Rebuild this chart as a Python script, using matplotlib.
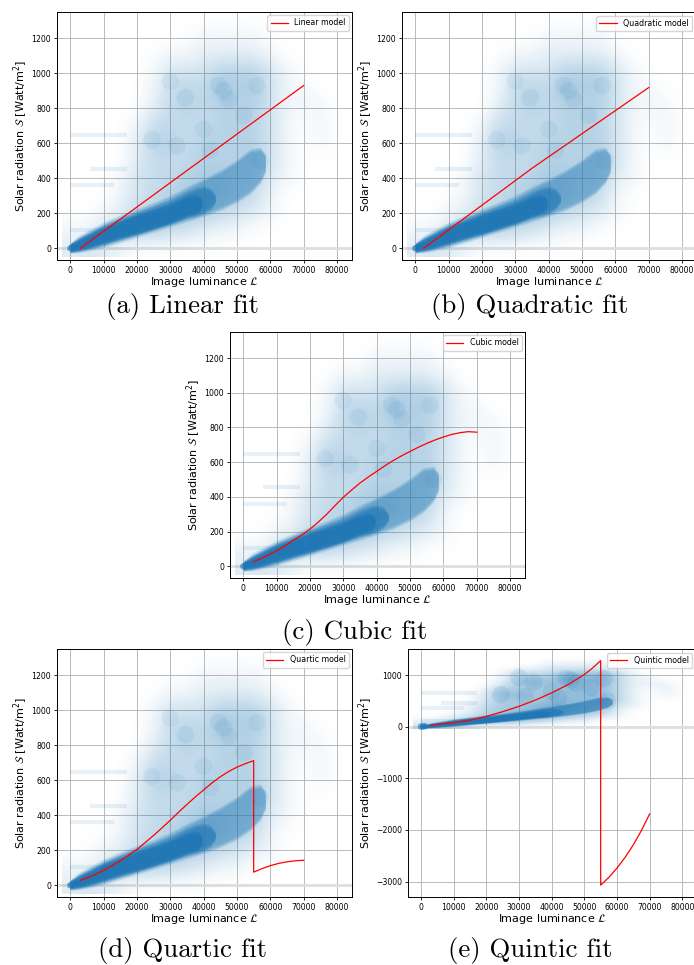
import matplotlib
matplotlib.use("Agg")
import matplotlib.pyplot as plt
import numpy as np
from matplotlib.colors import to_rgba

W, H = 694, 965
BLUE = "#1f77b4"

# fitted model curves (image luminance -> solar radiation)
linear_x = [3000, 70000]
linear_y = [0, 930]
quad_x = [2500, 35000, 70000]
quad_y = [0, 457, 918]
cubic_x = [3000, 7500, 10000, 12500, 15000, 17500, 20000, 22500, 25000, 27500,
           30000, 32500, 35000, 37500, 40000, 42500, 45000, 47500, 50000, 52500,
           55000, 57500, 60000, 62500, 65000, 67500, 70000]
cubic_y = [25, 65, 90, 118, 150, 180, 215, 255, 300, 350, 398, 440, 480, 515,
           547, 580, 610, 637, 662, 686, 708, 728, 745, 760, 770, 776, 773]
quartic_x = [3000, 7500, 10000, 12500, 15000, 17500, 20000, 22500, 25000, 27500,
             30000, 32500, 35000, 37500, 40000, 42500, 45000, 47500, 50000, 52500,
             55000, 55000, 57500, 60000, 62500, 65000, 67500, 70000]
quartic_y = [28, 62, 85, 112, 140, 172, 205, 245, 285, 328, 372, 418, 462, 505,
             545, 585, 620, 650, 675, 695, 712, 75, 95, 112, 125, 134, 140, 143]
quintic_x = [3000, 10000, 15000, 20000, 25000, 30000, 35000, 40000, 45000, 50000,
             52500, 55000, 55000, 57500, 60000, 62500, 65000, 67500, 70000]
quintic_y = [30, 75, 125, 200, 290, 395, 515, 655, 815, 1010, 1135, 1280,
             -3070, -2920, -2740, -2530, -2290, -2010, -1690]

# measurement cloud, estimated density on a coarse grid
# columns: luminance 0..80000 step 5000, rows: radiation 1300 down to 0 step 100
cloud_x = np.arange(0, 80001, 5000)
cloud_y = np.arange(1300, -1, -100)
cloud_density = np.array([
    [0, 0, 0, 0, 0, 0, 0, 0, 0, 0, 0, 0, 0, 0, 0, 0, 0],
    [0, 0, 0, 0, 0, 0, 0, 0, 1, 1, 1, 1, 0, 0, 0, 0, 0],
    [0, 0, 0, 0, 0, 0, 1, 1, 2, 2, 2, 2, 1, 0, 0, 0, 0],
    [0, 0, 0, 0, 0, 1, 3, 3, 3, 5, 5, 5, 3, 1, 0, 0, 0],
    [0, 0, 0, 0, 0, 1, 4, 5, 4, 7, 5, 6, 3, 1, 1, 0, 0],
    [0, 0, 0, 0, 0, 2, 4, 5, 4, 5, 5, 5, 3, 1, 1, 1, 0],
    [0, 0, 0, 0, 1, 4, 4, 4, 4, 5, 5, 5, 3, 1, 0, 1, 0],
    [0, 0, 0, 0, 2, 5, 5, 4, 5, 5, 5, 5, 3, 1, 0, 1, 0],
    [0, 0, 0, 0, 2, 4, 4, 4, 5, 5, 5, 6, 3, 1, 0, 0, 0],
    [0, 0, 0, 1, 3, 4, 4, 5, 6, 6, 5, 5, 2, 1, 0, 0, 0],
    [0, 0, 0, 1, 3, 4, 5, 6, 7, 6, 5, 4, 1, 0, 0, 0, 0],
    [0, 0, 1, 2, 4, 5, 6, 6, 5, 4, 3, 2, 1, 0, 0, 0, 0],
    [1, 1, 3, 4, 5, 5, 4, 3, 2, 1, 1, 0, 0, 0, 0, 0, 0],
    [2, 3, 2, 1, 0, 0, 0, 0, 0, 0, 0, 0, 0, 0, 0, 0, 0],
], dtype=float)

# dense band of the cloud: faint outer band, middle layer, solid core
halo_x = [0, 2500, 5000, 10000, 15000, 20000, 25000, 30000, 35000, 40000,
          45000, 50000, 54000, 57000, 58500]
halo_lo = [-10, -8, 0, 22, 50, 80, 110, 140, 170, 200, 235, 280, 330, 390, 450]
halo_hi = [12, 55, 82, 132, 172, 210, 245, 285, 335, 380, 430, 490, 550, 560, 520]
mid_x = [0, 2500, 5000, 10000, 15000, 20000, 25000, 30000, 35000, 38000,
         40000, 42000, 43500]
mid_lo = [-8, -2, 8, 34, 64, 92, 122, 152, 188, 200, 215, 238, 275]
mid_hi = [14, 44, 68, 116, 156, 192, 225, 260, 308, 330, 338, 325, 290]
core_x = [0, 2500, 5000, 10000, 15000, 20000, 25000, 30000, 35000, 37000,
          38500, 39500]
core_lo = [-5, 4, 16, 45, 75, 100, 130, 160, 198, 210, 225, 245]
core_hi = [8, 34, 58, 106, 140, 176, 205, 238, 280, 290, 285, 265]

# horizontal streaks of repeated radiation values at low luminance
streak_y = [650, 455, 360, 105]
streak_start = [0, 6000, 0, 0]
streak_end = [17000, 17000, 13000, 22000]

# darker clumps inside the cloud
blob_x = [46000, 44500, 34500, 32000, 24500, 56000, 57000, 30000, 47500, 42000, 40000, 52000]
blob_y = [900, 930, 860, 585, 620, 930, 500, 955, 850, 560, 680, 760]
origin_x = [0, 600, 1200]
origin_y = [0, 4, 10]

panels = [
    ("(a) Linear fit", "Linear model", linear_x, linear_y, (57, 12, 295, 248), (182, 307)),
    ("(b) Quadratic fit", "Quadratic model", quad_x, quad_y, (402, 12, 295, 248), (530, 307)),
    ("(c) Cubic fit", "Cubic model", cubic_x, cubic_y, (230, 332, 295, 246), (355, 632)),
    ("(d) Quartic fit", "Quartic model", quartic_x, quartic_y, (57, 649, 295, 248), (182, 950)),
    ("(e) Quintic fit", "Quintic model", quintic_x, quintic_y, (408, 649, 289, 248), (530, 950)),
]


def soft_band(ax, x, lo, hi, alpha, zorder):
    # stack a few widened copies so the band edge fades out
    lo = np.asarray(lo, dtype=float)
    hi = np.asarray(hi, dtype=float)
    for pad in (18, 9, 0):
        ax.fill_between(x, lo - pad, hi + pad, color=BLUE, alpha=alpha / 3,
                        linewidth=0, zorder=zorder)


fig = plt.figure(figsize=(W / 100, H / 100), dpi=100)

for i, (caption, name, cx, cy, box, cap_pos) in enumerate(panels):
    left, top, width, height = box
    ax = fig.add_axes([left / W, 1 - (top + height) / H, width / W, height / H])
    quintic = i == 4
    gain = 1.5 if quintic else 1.0

    ax.set_axisbelow(True)
    ax.grid(True, color="#b0b0b0", linewidth=0.6)
    ax.axhline(0, color="#dedede", linewidth=2.0, zorder=0.8)

    rgba = np.zeros(cloud_density.shape + (4,))
    rgba[..., :3] = to_rgba(BLUE)[:3]
    rgba[..., 3] = np.clip(cloud_density * 0.065 * gain, 0, 1)
    ax.imshow(rgba, extent=(cloud_x[0] - 2500, cloud_x[-1] + 2500,
                            cloud_y[-1] - 50, cloud_y[0] + 50),
              origin="upper", aspect="auto", interpolation="bicubic", zorder=1)

    ax.hlines(streak_y, streak_start, streak_end, color=BLUE, linewidth=3,
              alpha=0.1, zorder=1.2)
    ax.scatter(blob_x, blob_y, s=160, color=BLUE, alpha=0.07 * gain,
               edgecolors="none", zorder=1.25)
    soft_band(ax, halo_x, halo_lo, halo_hi, 0.55 * gain, 1.3)
    soft_band(ax, mid_x, mid_lo, mid_hi, 0.9, 1.35)
    soft_band(ax, core_x, core_lo, core_hi, 1.6, 1.4)
    ax.scatter(origin_x, origin_y, s=22, color=BLUE, alpha=0.6,
               edgecolors="none", zorder=1.5)

    ax.plot(cx, cy, color="red", linewidth=0.9, label=name, zorder=3)

    ax.set_xlim(-4000, 84500)
    if quintic:
        ax.set_ylim(-3300, 1505)
        ax.set_yticks([-3000, -2000, -1000, 0, 1000])
    else:
        ax.set_ylim(-67, 1350)
        ax.set_yticks(range(0, 1201, 200))
    ax.set_xticks(range(0, 80001, 10000))

    ax.tick_params(labelsize=5.6, length=2.5, width=0.6, pad=1.8)
    for side in ax.spines:
        ax.spines[side].set_linewidth(0.7)

    ax.set_xlabel(r"Image luminance $\mathcal{L}$", fontsize=8, labelpad=0.3)
    ax.set_ylabel(r"Solar radiation $\mathcal{S}$ [Watt/m$^2$]", fontsize=8, labelpad=1)
    if left + width > W:
        ax.legend(loc="upper right", fontsize=5.7, handlelength=2.2,
                  bbox_to_anchor=(692 / W, 1 - (top + 4) / H),
                  bbox_transform=fig.transFigure, borderaxespad=0, framealpha=0.8)
    else:
        ax.legend(loc="upper right", fontsize=5.7, handlelength=2.2,
                  borderaxespad=0.4, framealpha=0.8)

    fig.text(cap_pos[0] / W, 1 - cap_pos[1] / H, caption, fontfamily="cmr10",
             fontsize=19.3, ha="center", va="center")

fig.savefig("out.png", dpi=100)
